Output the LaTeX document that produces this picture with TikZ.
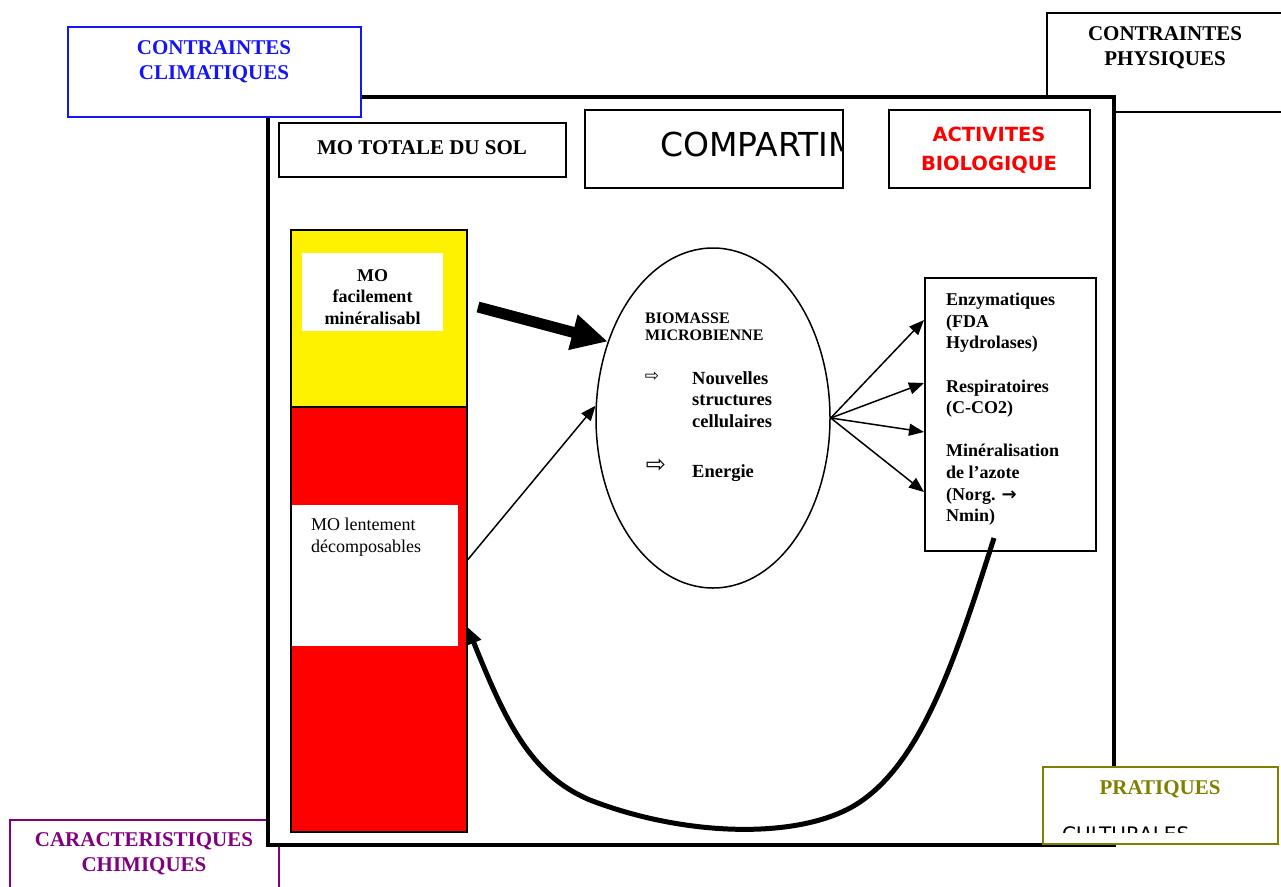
\documentclass[tikz,border=0pt]{standalone}
\usepackage{fontspec}
\setmainfont{Liberation Serif}
\newfontfamily\comic{DejaVu Sans}
\usetikzlibrary{arrows.meta,shapes.geometric}

\definecolor{bleuclim}{RGB}{20,20,245}
\definecolor{violetchim}{RGB}{128,0,128}
\definecolor{olivepra}{RGB}{128,128,0}

\tikzset{
  boite/.style={draw, fill=white, line width=2pt, inner sep=0pt, anchor=north west},
  fond/.style={fill=white, inner sep=0pt, anchor=north west},
  titre/.style={inner sep=0pt, align=center, font=\fontsize{21}{25}\selectfont\bfseries},
  texte/.style={inner sep=0pt, align=left, font=\fontsize{18}{21.6}\selectfont\bfseries},
  fleche/.style={-{Triangle[length=15pt,width=12pt]}, line width=1.5pt},
}

\begin{document}
\begin{tikzpicture}[x=1pt,y=-1pt]
  \useasboundingbox (0,0) rectangle (1281,886);

  % cadres autour
  \node[boite, minimum width=254pt, minimum height=99pt] (physbox) at (1046,12) {};
  \node[boite, draw=violetchim, minimum width=269pt, minimum height=90pt] (chimbox) at (9,819) {};
  \node[boite, line width=4pt, minimum width=846pt, minimum height=748pt] (cadre) at (266,95) {};
  \node[boite, draw=bleuclim, minimum width=293pt, minimum height=90pt] (climbox) at (67,26) {};
  \node[boite, draw=olivepra, minimum width=235pt, minimum height=77pt] (pratbox) at (1042,766) {};

  \node[titre, text=bleuclim] (clim) at (214,62) {CONTRAINTES\\CLIMATIQUES};
  \node[titre] (phys) at (1165,48) {CONTRAINTES\\PHYSIQUES};
  \node[titre, text=violetchim] (chim) at (144,854) {CARACTERISTIQUES\\CHIMIQUES};
  \node[titre, text=olivepra] (prat) at (1160,789) {PRATIQUES};
  \begin{scope}
    \clip (1044,768) rectangle (1275,832);
    \node[inner sep=0pt, anchor=base west, font=\comic\fontsize{20}{24}\selectfont] (cult) at (1062,841) {CULTURALES};
  \end{scope}

  % titres du haut
  \node[boite, minimum width=287pt, minimum height=54pt] (totbox) at (278,122) {};
  \node[titre] (tot) at (422,148) {MO TOTALE DU SOL};
  \node[boite, minimum width=258pt, minimum height=78pt] (compbox) at (584,109) {};
  \begin{scope}
    \clip (585,110) rectangle (841,186);
    \node[inner sep=0pt, anchor=base west, font=\comic\fontsize{33}{36}\selectfont] (comp) at (660,156) {COMPARTIMENTS};
  \end{scope}
  \node[boite, minimum width=201pt, minimum height=78pt] (actbox) at (888,109) {};
  \node[titre, text=red, font=\comic\bfseries\fontsize{19.5}{29}\selectfont] (act) at (989,150) {ACTIVITES\\BIOLOGIQUE};

  % colonne MO
  \node[draw, fill=yellow, line width=1.5pt, minimum width=176pt, minimum height=177pt, inner sep=0pt, anchor=north west] (jaune) at (290,229) {};
  \node[draw, fill=red, line width=1.5pt, minimum width=176pt, minimum height=425pt, inner sep=0pt, anchor=north west] (rouge) at (290,406) {};
  \node[fond, minimum width=141pt, minimum height=78pt] (blanc1) at (302,253) {};
  \node[fond, minimum width=166pt, minimum height=141pt] (blanc2) at (292,505) {};
  \node[texte, align=center] (facile) at (372.5,297) {MO\\facilement\\minéralisabl};
  \node[texte, font=\fontsize{18}{22}\selectfont, anchor=west] (lent) at (311,537) {MO lentement\\décomposables};

  % biomasse
  \node[draw, ellipse, line width=1.5pt, minimum width=234pt, minimum height=340pt, inner sep=0pt] (biomasse) at (713,418) {};
  \node[texte, font=\fontsize{16}{17}\selectfont\bfseries, anchor=west] (biotitre) at (645,327) {BIOMASSE\\MICROBIENNE};
  \node[inner sep=0pt, font=\comic\fontsize{17}{18}\selectfont] (puce1) at (652,377) {⇨};
  \node[texte, font=\fontsize{18.5}{21.5}\selectfont\bfseries, anchor=north west] (nouv) at (692,371) {Nouvelles\\structures\\cellulaires};
  \node[inner sep=0pt, font=\comic\fontsize{24}{26}\selectfont] (puce2) at (656,466) {⇨};
  \node[texte, font=\fontsize{18.5}{21.5}\selectfont\bfseries, anchor=base west] (energie) at (692,477) {Energie};

  % activites
  \node[draw, line width=1.5pt, minimum width=171pt, minimum height=273pt, inner sep=0pt, anchor=north west] (actbio) at (924,277) {};
  \node[texte, anchor=north west] (liste) at (946,293) {Enzymatiques\\(FDA\\Hydrolases)\\[21.6pt]Respiratoires\\(C-CO2)\\[21.6pt]Minéralisation\\de l’azote\\(Norg. {\comic →}\\Nmin)};

  % fleches
  \coordinate (fdepart) at (478,307);
  \draw[line width=11pt, -{Triangle[length=36pt,width=34pt]}] (fdepart) -- (biomasse.144.5);
  \draw[fleche] (rouge.east |- 0,560) -- (biomasse.174);
  \foreach \yy in {320,383,432,492}
    \draw[fleche] (biomasse.east) -- (actbio.west |- 0,\yy);
  \coordinate (depart) at (994,538);
  \coordinate (retour) at (rouge.east |- 0,627);
  \draw[line width=5pt, -{Triangle[length=17pt,width=15pt]}] (depart) .. controls (955,660) and (920,770) .. (850,808)
    .. controls (790,840) and (680,835) .. (590,800)
    .. controls (530,775) and (505,720) .. (retour);
\end{tikzpicture}
\end{document}
